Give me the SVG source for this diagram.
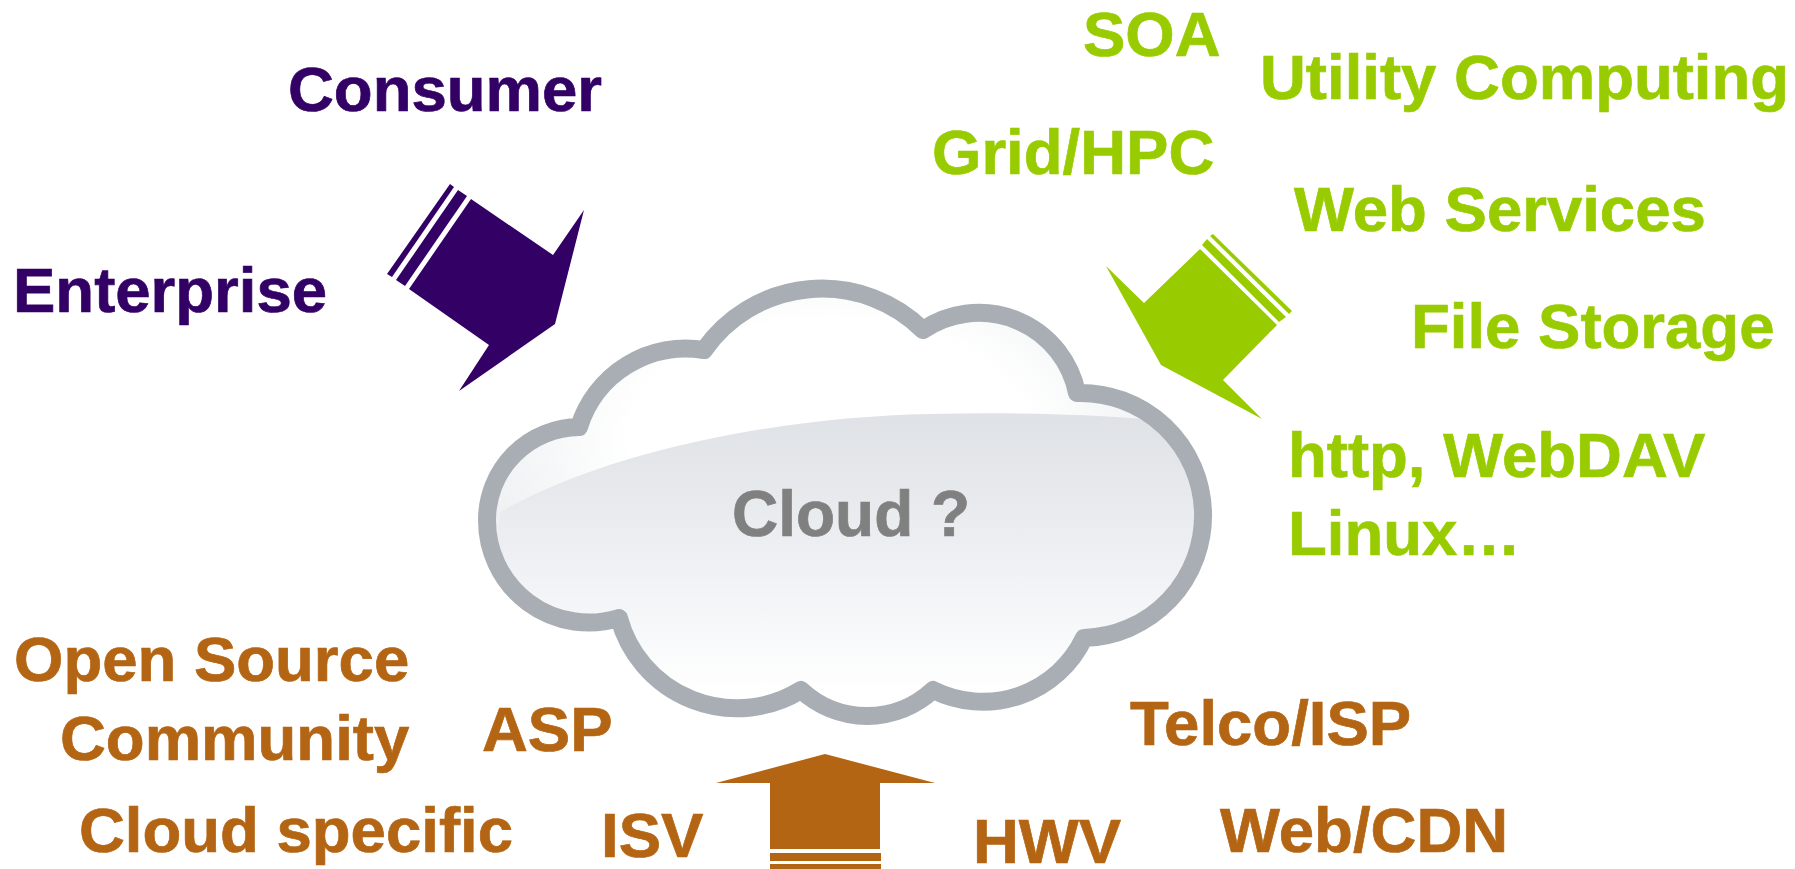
<svg xmlns="http://www.w3.org/2000/svg" width="1795" height="869" viewBox="0 0 1795 869">
<style>
text{font-family:"Liberation Sans",Arial,sans-serif;font-weight:bold;font-size:63.5px;stroke-width:.7px}
.p{fill:#330066;stroke:#330066}.g{fill:#99cc00;stroke:#99cc00}.b{fill:#b46513;stroke:#b46513}
</style>
<defs>
<path id="cl" d="M704 350A144 144 0 0 1 923 330A100 100 0 0 1 1077 393A122 122 0 0 1 1084 638A112 112 0 0 1 933 690A97 97 0 0 1 801 690A122 122 0 0 1 619 618A102 102 0 0 1 487 520A93 93 0 0 1 579 427A112 112 0 0 1 704 350Z"/>
<clipPath id="cc"><use href="#cl"/></clipPath>
<radialGradient id="top" gradientUnits="userSpaceOnUse" cx="830" cy="440" r="400" gradientTransform="translate(0 176) scale(1 .6)"><stop offset=".5" stop-color="#fff"/><stop offset="1" stop-color="#e9ecee"/></radialGradient>
<linearGradient id="low" gradientUnits="userSpaceOnUse" x1="0" y1="420" x2="0" y2="690"><stop offset="0" stop-color="#dfe2e6"/><stop offset=".55" stop-color="#eff1f4"/><stop offset="1" stop-color="#fff"/></linearGradient>
</defs>
<g id="cloud">
<use href="#cl" fill="url(#top)"/>
<path clip-path="url(#cc)" fill="url(#low)" d="M500 512C610 450 780 417 930 414C1020 412 1110 414 1210 425V730H480Z"/>
<use href="#cl" fill="none" stroke="#a9aeb5" stroke-width="18" stroke-linejoin="round"/>
<text id="t-cloud" x="732" y="536" style="fill:#808080;stroke:#808080;font-size:64px">Cloud ?</text>
</g>
<g id="connectors">
<g id="arrow-purple"><path fill="#330066" d="M471 199L553 255L584 210L555 324L459 391L489 345L409 289Z"/><path fill="#330066" d="M458 190L467 196L405 286L396 280Z"/><path fill="#330066" d="M450 184L454 187L392 277L387 274Z"/></g>
<g id="arrow-green"><path fill="#99cc00" d="M1200 249L1277 325L1223 380L1262 419L1161 365L1106 266L1144 303Z"/><path fill="#99cc00" d="M1207 239L1286 317L1279 322L1202 245Z"/><path fill="#99cc00" d="M1213 234L1292 311L1289 314L1210 236Z"/></g>
<g id="arrow-brown"><path fill="#b46513" d="M825 754L935 783H880V849H770V783H716Z"/><path fill="#b46513" d="M770 853H881V861H770Z"/><path fill="#b46513" d="M770 864H881V869H770Z"/></g>
</g>
<g id="n-consumer"><text class="p" x="288" y="111">Consumer</text></g>
<g id="n-enterprise"><text class="p" x="13" y="312">Enterprise</text></g>
<g id="n-soa"><text class="g" x="1083" y="56">SOA</text></g>
<g id="n-utility"><text class="g" x="1260" y="99">Utility Computing</text></g>
<g id="n-grid"><text class="g" x="932" y="174">Grid/HPC</text></g>
<g id="n-ws"><text class="g" x="1294" y="231">Web Services</text></g>
<g id="n-fs"><text class="g" x="1411" y="348">File Storage</text></g>
<g id="n-http"><text class="g" x="1288" y="477">http, WebDAV</text></g>
<g id="n-linux"><text class="g" x="1288" y="555">Linux…</text></g>
<g id="n-oss"><text class="b" x="14" y="681">Open Source</text></g>
<g id="n-comm"><text class="b" x="60" y="760">Community</text></g>
<g id="n-asp"><text class="b" x="482" y="751">ASP</text></g>
<g id="n-cs"><text class="b" x="79" y="852">Cloud specific</text></g>
<g id="n-isv"><text class="b" x="601" y="857">ISV</text></g>
<g id="n-hwv"><text class="b" x="973" y="863">HWV</text></g>
<g id="n-web"><text class="b" x="1220" y="852">Web/CDN</text></g>
<g id="n-telco"><text class="b" x="1130" y="745">Telco/ISP</text></g>
</svg>
